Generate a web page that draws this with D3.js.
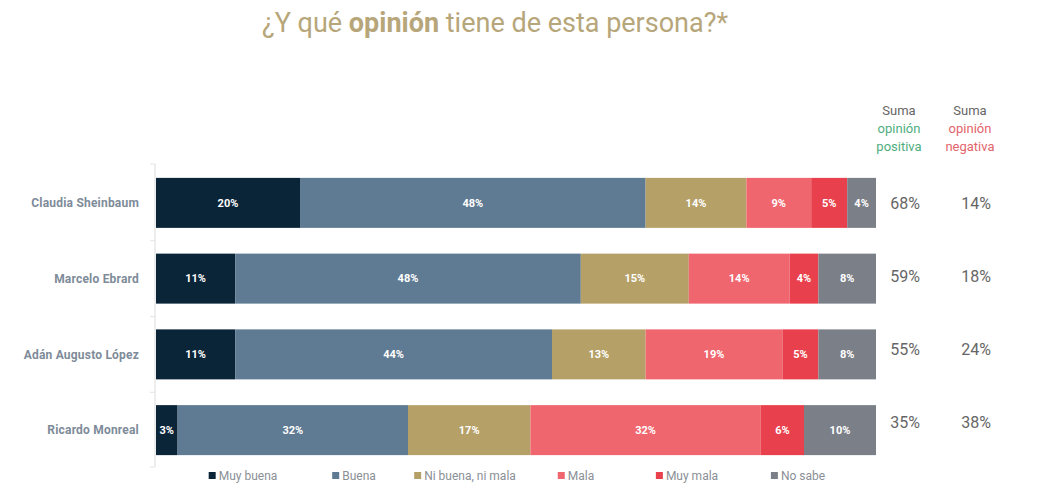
<!DOCTYPE html>
<html>
<head>
<meta charset="utf-8">
<script src="https://cdn.jsdelivr.net/npm/d3@7"></script>
<style>
  body { margin: 0; background: #fff; }
  svg { display: block; font-family: Roboto, "Noto Sans", sans-serif; }
</style>
</head>
<body>
<div id="chart"></div>
<script>
'use strict'

// data
const people = ["Claudia Sheinbaum", "Marcelo Ebrard", "Adán Augusto López", "Ricardo Monreal"]
const categories = ["Muy buena", "Buena", "Ni buena, ni mala", "Mala", "Muy mala", "No sabe"]
const muyBuena = [20, 11, 11, 3]
const buena = [48, 48, 44, 32]
const niBuena = [14, 15, 13, 17]
const mala = [9, 14, 19, 32]
const muyMala = [5, 4, 5, 6]
const noSabe = [4, 8, 8, 10]
const sumaPositiva = [68, 59, 55, 35]
const sumaNegativa = [14, 18, 24, 38]

const colors = ["#0b2538", "#5f7a93", "#b5a168", "#f0666f", "#e8404c", "#7b8088"]

const rows = people.map((p, i) => ({
    name: p,
    "Muy buena": muyBuena[i],
    "Buena": buena[i],
    "Ni buena, ni mala": niBuena[i],
    "Mala": mala[i],
    "Muy mala": muyMala[i],
    "No sabe": noSabe[i]
}))

////////////////////////////////////
//////////// svg setup /////////////
////////////////////////////////////

const svgWidth = 1058, svgHeight = 503

const svg = d3.select('#chart')
    .append('svg')
    .attr('width', svgWidth)
    .attr('height', svgHeight)

// scales
const x = d3.scaleLinear().domain([0, 100]).range([156, 876])
const y = d3.scaleBand().domain(people).range([165, 468]).paddingInner(0.34).paddingOuter(0.17)
// the sum column sits on a slightly tighter grid than the bars
const ySum = d3.scaleBand().domain(people).range([167, 459])
const color = d3.scaleOrdinal().domain(categories).range(colors)

// title
const title = svg.append('text')
    .attr('x', 495)
    .attr('y', 32)
    .attr('text-anchor', 'middle')
    .style('font-size', '27px')
    .style('fill', '#b6a67a')
title.append('tspan').text('¿Y qué ')
title.append('tspan').style('font-weight', 'bold').text('opinión')
title.append('tspan').text(' tiene de esta persona?*')

// axis line on the left
const yAxis = svg.append('g')
    .attr('transform', 'translate(155,0)')
    .call(d3.axisLeft(y).tickSize(0).tickFormat(''))
yAxis.select('.domain').attr('stroke', '#dcdcdc').attr('d', 'M0,164V467')
yAxis.selectAll('.bound')
    .data(d3.range(people.length + 1))
    .join('line')
    .attr('x1', -5).attr('x2', 0)
    .attr('y1', i => i === 0 ? 164 : (i === people.length ? 467 : y(people[i]) - y.step() * y.paddingInner() / 2))
    .attr('y2', i => i === 0 ? 164 : (i === people.length ? 467 : y(people[i]) - y.step() * y.paddingInner() / 2))
    .attr('stroke', '#e4e4e4')

// names
svg.selectAll('.name')
    .data(people)
    .join('text')
    .attr('class', 'name')
    .attr('x', 139)
    .attr('y', d => y(d) + y.bandwidth() / 2)
    .attr('dy', '0.35em')
    .attr('text-anchor', 'end')
    .style('font-size', '12px')
    .style('font-weight', 'bold')
    .style('letter-spacing', '0.2px')
    .style('fill', '#7e8b99')
    .text(d => d)

// stacked bars
const series = d3.stack().keys(categories)(rows)

const layer = svg.selectAll('.layer')
    .data(series)
    .join('g')
    .attr('class', 'layer')
    .style('fill', d => color(d.key))

layer.selectAll('rect')
    .data(d => d)
    .join('rect')
    .attr('x', d => x(d[0]))
    .attr('y', d => y(d.data.name))
    .attr('width', d => x(d[1]) - x(d[0]))
    .attr('height', y.bandwidth())

layer.selectAll('.val')
    .data(d => d)
    .join('text')
    .attr('class', 'val')
    .attr('x', d => (x(d[0]) + x(d[1])) / 2)
    .attr('y', d => y(d.data.name) + y.bandwidth() / 2)
    .attr('dy', '0.35em')
    .attr('text-anchor', 'middle')
    .style('font-size', '11px')
    .style('font-weight', 'bold')
    .style('fill', '#fff')
    .text(d => (d[1] - d[0]) + '%')

// sum columns
const cols = [
    { x: 899, label: 'positiva', color: '#4fae80', values: sumaPositiva },
    { x: 970, label: 'negativa', color: '#e3646c', values: sumaNegativa }
]

cols.forEach(c => {
    const head = svg.append('text')
        .attr('x', c.x)
        .attr('y', 115)
        .attr('text-anchor', 'middle')
        .style('font-size', '13px')
    head.append('tspan').attr('x', c.x).style('fill', '#666').text('Suma')
    head.append('tspan').attr('x', c.x).attr('dy', 18).style('fill', c.color).text('opinión')
    head.append('tspan').attr('x', c.x).attr('dy', 18).style('fill', c.color).text(c.label)

    svg.selectAll(null)
        .data(c.values)
        .join('text')
        .attr('x', c.x + 6)
        .attr('y', (d, i) => ySum(people[i]) + ySum.bandwidth() / 2)
        .attr('dy', '0.35em')
        .attr('text-anchor', 'middle')
        .style('font-size', '16px')
        .style('fill', '#666')
        .text(d => d + '%')
})

// legend
const lx = d3.scalePoint().domain(categories).range([243, 798])

const leg = svg.selectAll('.legend')
    .data(categories)
    .join('g')
    .attr('class', 'legend')

leg.append('text')
    .attr('y', 476)
    .attr('dy', '0.35em')
    .style('font-size', '12px')
    .style('fill', '#8a8f96')
    .text(d => d)
    .each(function (d) {
        const w = this.getComputedTextLength() + 10
        d3.select(this).attr('x', lx(d) - w / 2 + 10)
        d3.select(this.parentNode).append('rect')
            .attr('x', lx(d) - w / 2)
            .attr('y', 472)
            .attr('width', 7)
            .attr('height', 7)
            .style('fill', color(d))
    })
</script>
</body>
</html>
